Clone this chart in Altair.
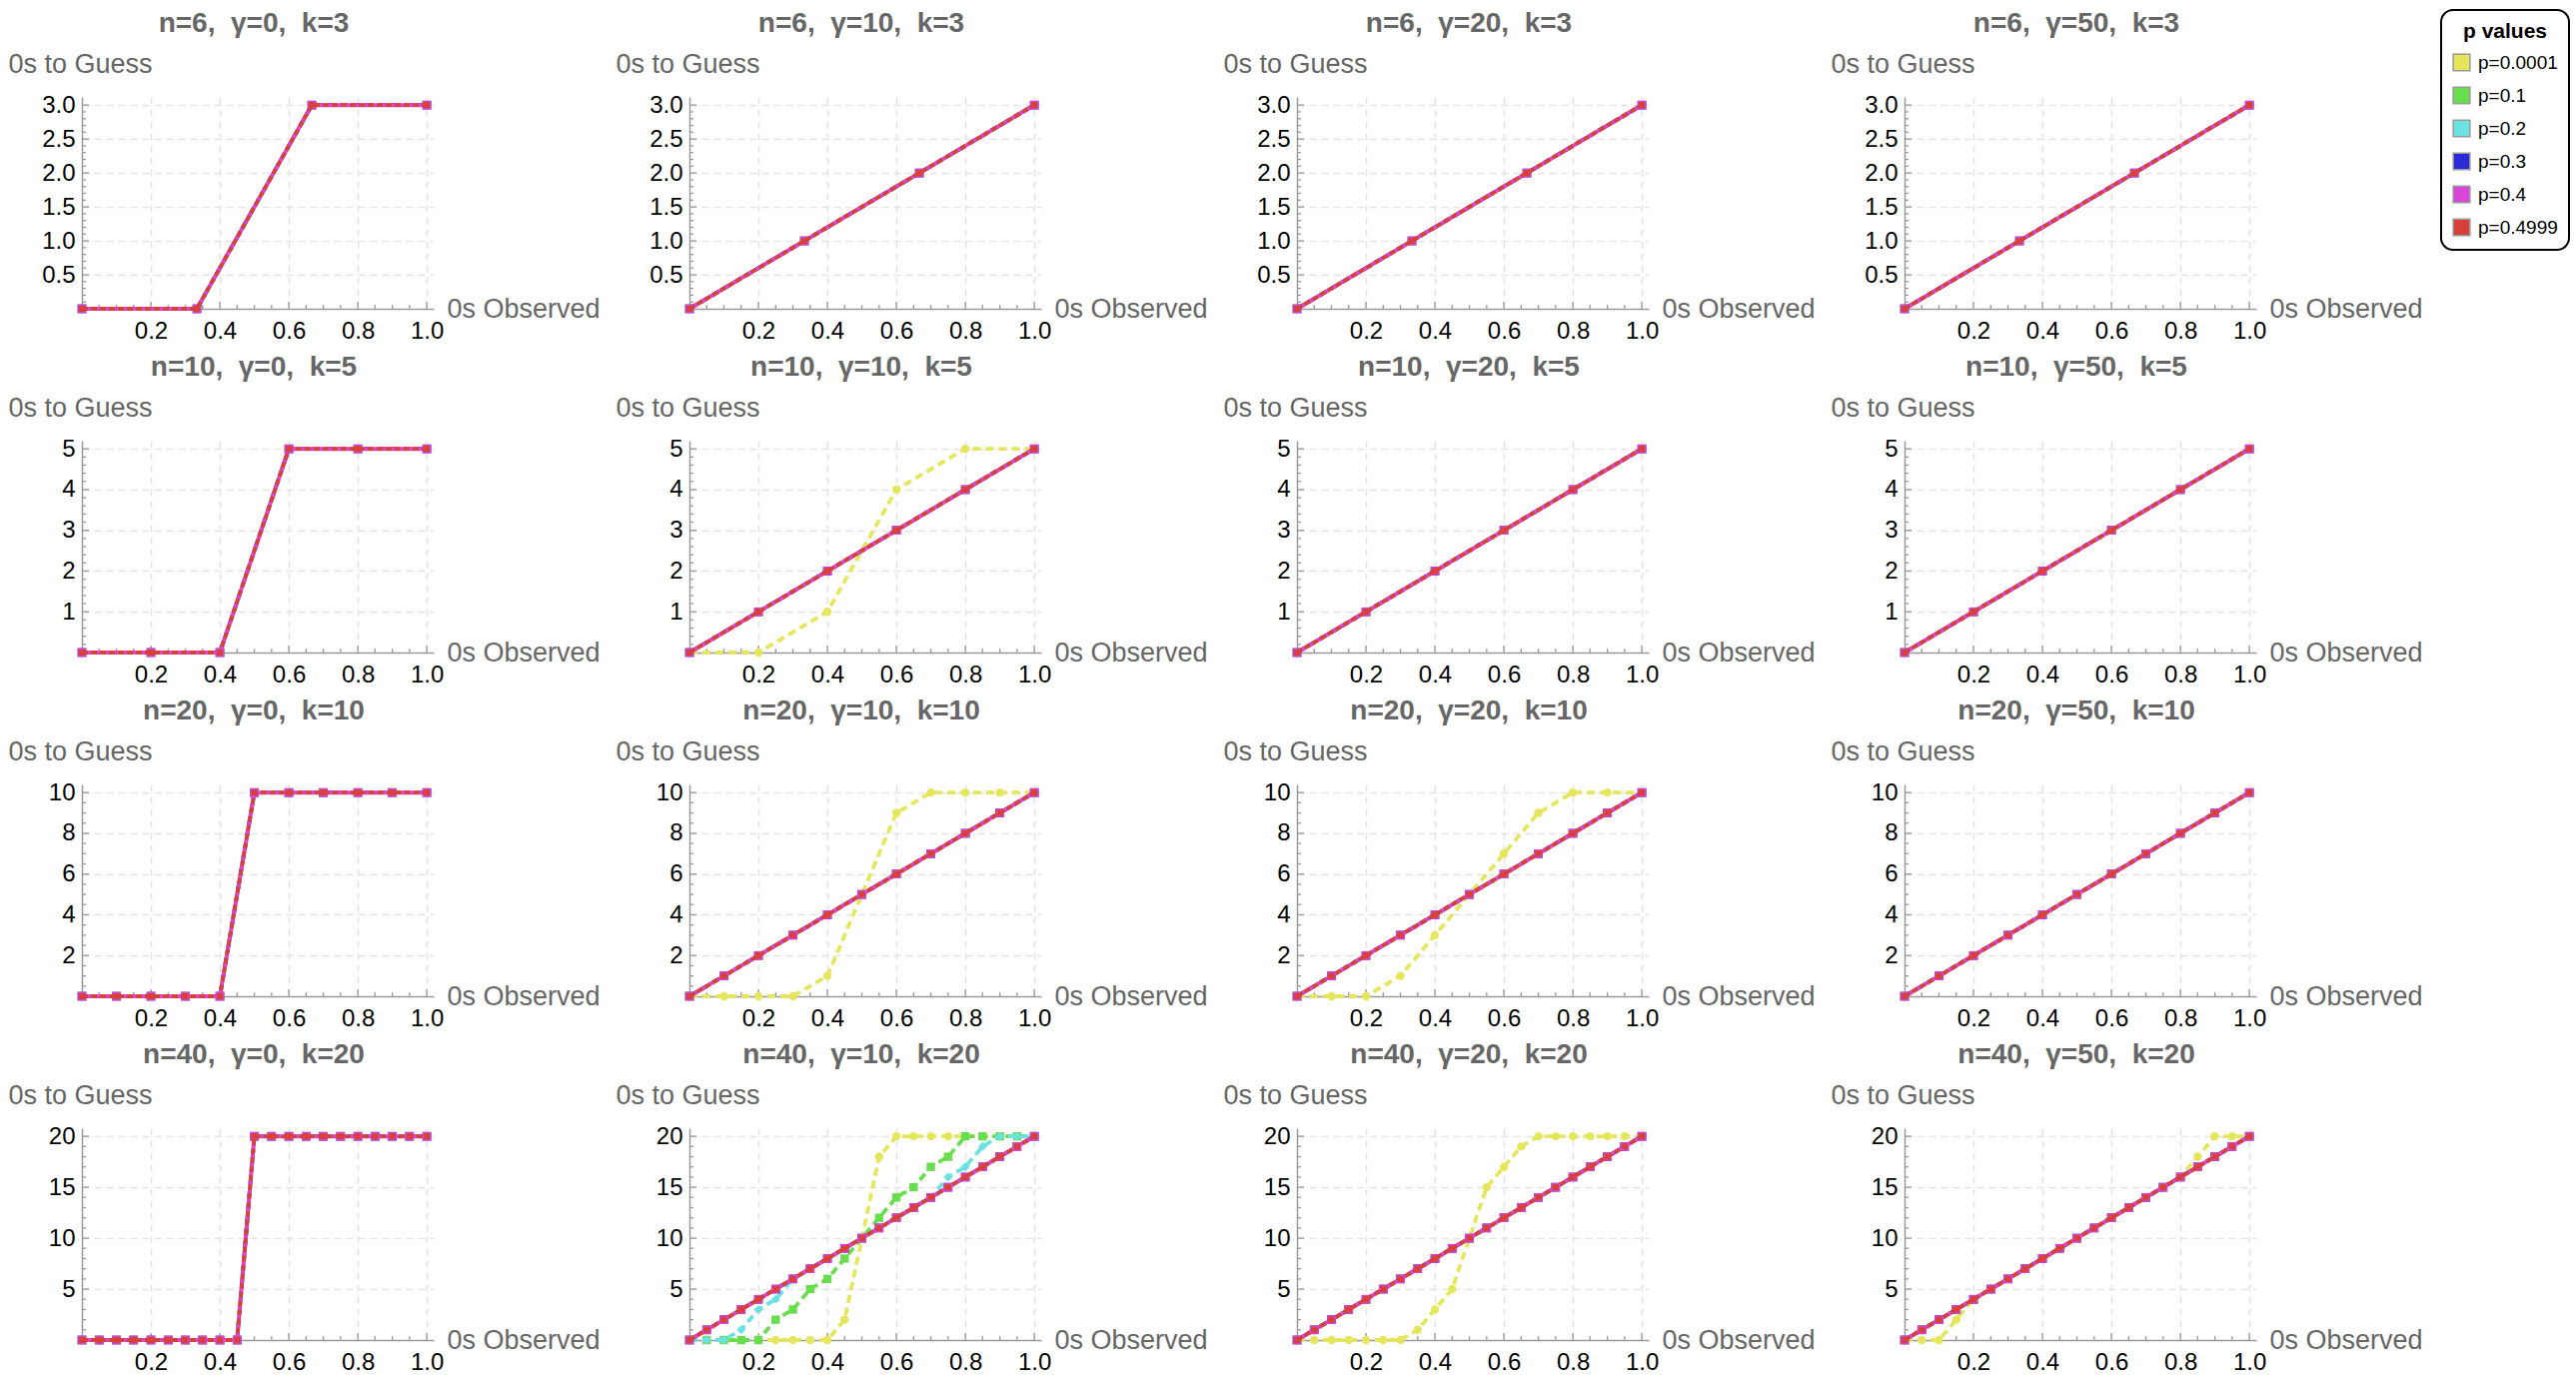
import altair as alt
import numpy as np
import pandas as pd

# ---- panel grid -------------------------------------------------------------
N_VALUES = [6, 10, 20, 40]
GAMMAS = [0, 10, 20, 50]

P_LABELS = ["p=0.0001", "p=0.1", "p=0.2", "p=0.3", "p=0.4", "p=0.4999"]
P_COLORS = ["#E6E65C", "#68DE4E", "#6BE2E2", "#2B2BD8", "#D945D9", "#D8413A"]

# ---- guesses (one value per observed fraction 0, 1/k, ..., 1) ---------------
# gamma = 0: every p gives the same hard step
STEP_6 = [0, 0, 3, 3]
STEP_10 = [0, 0, 0, 5, 5, 5]
STEP_20 = [0, 0, 0, 0, 0, 10, 10, 10, 10, 10, 10]
STEP_40 = [0, 0, 0, 0, 0, 0, 0, 0, 0, 0,
           20, 20, 20, 20, 20, 20, 20, 20, 20, 20, 20]

# proportional guess
DIAG_6 = [0, 1, 2, 3]
DIAG_10 = [0, 1, 2, 3, 4, 5]
DIAG_20 = [0, 1, 2, 3, 4, 5, 6, 7, 8, 9, 10]
DIAG_40 = [0, 1, 2, 3, 4, 5, 6, 7, 8, 9, 10,
           11, 12, 13, 14, 15, 16, 17, 18, 19, 20]

# curves that leave the proportional line
N10_G10_P0001 = [0, 0, 1, 4, 5, 5]
N20_G10_P0001 = [0, 0, 0, 0, 1, 5, 9, 10, 10, 10, 10]
N20_G20_P0001 = [0, 0, 0, 1, 3, 5, 7, 9, 10, 10, 10]
N40_G10_P0001 = [0, 0, 0, 0, 0, 0, 0, 0, 0, 2, 10,
                 18, 20, 20, 20, 20, 20, 20, 20, 20, 20]
N40_G10_P01 = [0, 0, 0, 0, 0, 2, 3, 5, 6, 8, 10,
               12, 14, 15, 17, 18, 20, 20, 20, 20, 20]
N40_G10_P02 = [0, 0, 0, 1, 3, 4, 6, 7, 8, 9, 10,
               11, 12, 13, 14, 16, 17, 19, 20, 20, 20]
N40_G20_P0001 = [0, 0, 0, 0, 0, 0, 0, 1, 3, 5, 10,
                 15, 17, 19, 20, 20, 20, 20, 20, 20, 20]
N40_G50_P0001 = [0, 0, 0, 2, 4, 5, 6, 7, 8, 9, 10,
                 11, 12, 13, 14, 15, 16, 18, 20, 20, 20]

STEP = {6: STEP_6, 10: STEP_10, 20: STEP_20, 40: STEP_40}
DIAG = {6: DIAG_6, 10: DIAG_10, 20: DIAG_20, 40: DIAG_40}
SPECIAL = {
    (10, 10, "p=0.0001"): N10_G10_P0001,
    (20, 10, "p=0.0001"): N20_G10_P0001,
    (20, 20, "p=0.0001"): N20_G20_P0001,
    (40, 10, "p=0.0001"): N40_G10_P0001,
    (40, 10, "p=0.1"): N40_G10_P01,
    (40, 10, "p=0.2"): N40_G10_P02,
    (40, 20, "p=0.0001"): N40_G20_P0001,
    (40, 50, "p=0.0001"): N40_G50_P0001,
}

# ---- axis ticks --------------------------------------------------------------
X_TICKS = [0.2, 0.4, 0.6, 0.8, 1.0]
X_MINOR_STEP = 0.05
Y_TICKS = {
    6: [0.5, 1.0, 1.5, 2.0, 2.5, 3.0],
    10: [1, 2, 3, 4, 5],
    20: [2, 4, 6, 8, 10],
    40: [5, 10, 15, 20],
}
Y_MINOR_STEP = {6: 0.1, 10: 0.2, 20: 0.5, 40: 1.0}
Y_FORMAT = {6: ".1f", 10: "d", 20: "d", 40: "d"}

# ---- styling -----------------------------------------------------------------
FONT = "Liberation Sans"
W, H = 352, 212
GREY_TEXT = "#666666"
AXIS_GREY = "#9A9A9A"

SERIES_STYLE = {
    "p=0.0001": dict(shape="circle", size=70, dash=[8, 5], width=3.8),
    "p=0.1": dict(shape="square", size=70, dash=[8, 5], width=3.8),
    "p=0.2": dict(shape="diamond", size=80, dash=[8, 5], width=3.8),
    "p=0.3": dict(shape="square", size=75, dash=[8, 5], width=3.8),
    "p=0.4": dict(shape="square", size=75, dash=[], width=4),
    "p=0.4999": dict(shape="square", size=38, dash=[6, 3], width=3.8),
}

LEGEND = alt.Legend(
    title="p values",
    orient="none",
    legendX=2361,
    legendY=-87,
    symbolType="square",
    symbolSize=280,
    symbolStrokeColor="#9A9A9A",
    symbolStrokeWidth=1.5,
    symbolOpacity=1,
    labelFontSize=19,
    labelColor="black",
    labelOffset=7,
    titleFontSize=21,
    titleFontWeight="bold",
    titleColor="black",
    titleAnchor="middle",
    titlePadding=11,
    padding=11,
    rowPadding=10,
    strokeColor="black",
    cornerRadius=12,
    fillColor="white",
)


def guesses(n, gamma, p):
    if gamma == 0:
        return STEP[n]
    return SPECIAL.get((n, gamma, p), DIAG[n])


def panel(n, gamma):
    k = n // 2
    observed = [i / k for i in range(k + 1)]
    df = pd.concat(
        [pd.DataFrame({"observed": observed, "guess": guesses(n, gamma, p), "p": p})
         for p in P_LABELS],
        ignore_index=True,
    )

    xscale = alt.Scale(domain=[0, 1.02], nice=False, zero=False)
    yscale = alt.Scale(domain=[0, k * 1.04], nice=False, zero=False)

    x_axis = alt.Axis(
        values=X_TICKS, format=".1f", title="0s Observed",
        labelFontSize=24, labelColor="black", labelPadding=10, labelFlush=False,
        labelOverlap=False, ticks=False,
        domainColor=AXIS_GREY, domainWidth=1.5,
        grid=True, gridColor="#E4E4E4", gridDash=[7, 5], gridWidth=1.5,
        titleFontSize=27, titleFontWeight="normal", titleColor=GREY_TEXT,
        titleAngle=0, titleAlign="left", titleBaseline="middle",
        titleX=365, titleY=0,
    )
    y_axis = alt.Axis(
        values=Y_TICKS[n], format=Y_FORMAT[n], title="0s to Guess",
        labelFontSize=24, labelColor="black", labelPadding=7, labelFlush=False,
        labelOverlap=False, ticks=False,
        domainColor=AXIS_GREY, domainWidth=1.5,
        grid=True, gridColor="#E4E4E4", gridDash=[7, 5], gridWidth=1.5,
        titleFontSize=27, titleFontWeight="normal", titleColor=GREY_TEXT,
        titleAngle=0, titleAlign="left", titleBaseline="middle",
        titleX=-74, titleY=-33,
    )
    x_enc = lambda field: alt.X(field, scale=xscale, axis=x_axis)
    y_enc = lambda field: alt.Y(field, scale=yscale, axis=y_axis)

    # inward tick marks along both axes
    x_all = np.round(np.arange(X_MINOR_STEP, 1.0 + 1e-9, X_MINOR_STEP), 3)
    x_minor = pd.DataFrame({"t": [v for v in x_all if not any(abs(v - m) < 1e-6 for m in X_TICKS)]})
    x_major = pd.DataFrame({"t": X_TICKS})
    ystep = Y_MINOR_STEP[n]
    y_all = np.round(np.arange(ystep, k + 1e-9, ystep), 3)
    y_minor = pd.DataFrame({"t": [v for v in y_all if not any(abs(v - m) < 1e-6 for m in Y_TICKS[n])]})
    y_major = pd.DataFrame({"t": Y_TICKS[n]})

    def xticks(data, length):
        return alt.Chart(data).mark_rule(color=AXIS_GREY, strokeWidth=1.3).encode(
            x=x_enc("t:Q"), y=alt.value(H), y2=alt.value(H - length),
        )

    def yticks(data, length):
        return alt.Chart(data).mark_rule(color=AXIS_GREY, strokeWidth=1.3).encode(
            y=y_enc("t:Q"), x=alt.value(0), x2=alt.value(length),
        )

    layers = []
    base = alt.Chart(df)
    for p, color in zip(P_LABELS, P_COLORS):
        st = SERIES_STYLE[p]
        line_kw = dict(strokeWidth=st["width"], color=color)
        if st["dash"]:
            line_kw["strokeDash"] = st["dash"]
        layers.append(
            base.transform_filter(alt.datum.p == p).mark_line(**line_kw).encode(
                x=x_enc("observed:Q"), y=y_enc("guess:Q"),
            )
        )
        layers.append(
            base.transform_filter(alt.datum.p == p).mark_point(
                filled=True, shape=st["shape"], size=st["size"], opacity=1
            ).encode(
                x=x_enc("observed:Q"), y=y_enc("guess:Q"),
                color=alt.Color("p:N", scale=alt.Scale(domain=P_LABELS, range=P_COLORS),
                                legend=LEGEND),
            )
        )
    layers = [xticks(x_minor, 4), xticks(x_major, 7),
              yticks(y_minor, 4), yticks(y_major, 7)] + layers

    title = f"n={n},\u00a0\u00a0\u03b3={gamma},\u00a0\u00a0k={k}"
    layers.append(
        alt.Chart(pd.DataFrame({"label": [title]})).mark_text(
            fontSize=28, fontWeight="bold", color=GREY_TEXT, align="center",
            baseline="alphabetic", font=FONT,
        ).encode(text="label:N", x=alt.value(172), y=alt.value(-65))
    )

    return alt.layer(*layers).properties(width=W, height=H)


panels = [panel(n, g) for n in N_VALUES for g in GAMMAS]

chart = (
    alt.ConcatChart(
        concat=panels,
        columns=4,
        spacing={"row": 132, "column": 256},
        bounds="flush",
    )
    .resolve_scale(color="shared")
    .properties(padding={"left": 8, "top": 9, "right": 5, "bottom": 5},
                background="white")
    .configure(font=FONT)
    .configure_view(stroke=None)
    .configure_legend(strokeWidth=2)
)

chart.save("out.html", embed_options={"renderer": "svg", "actions": False})
